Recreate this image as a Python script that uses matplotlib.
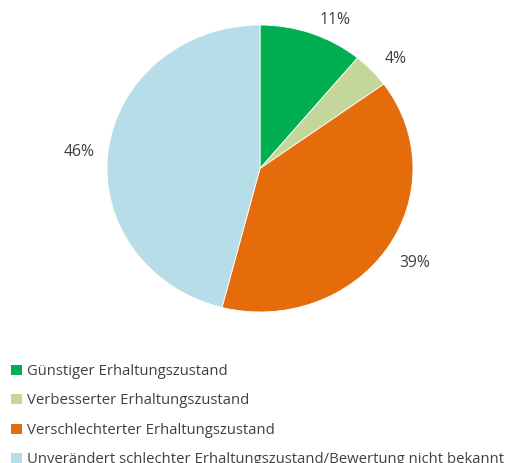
import numpy as np
import matplotlib
matplotlib.use("Agg")
import matplotlib.pyplot as plt
from matplotlib.patches import Patch

labels = ["Günstiger Erhaltungszustand",
          "Verbesserter Erhaltungszustand",
          "Verschlechterter Erhaltungszustand",
          "Unverändert schlechter Erhaltungszustand/Bewertung nicht bekannt"]
values = [11, 4, 39, 46]
colors = ["#00B050", "#C4D79B", "#E46C0A", "#B7DEE8"]
# label nudges from the wedge edge, in points
label_offsets = [(17, 10), (17, 8), (20, -10), (-21, -1)]

plt.rcParams['font.family'] = ['Open Sans', 'DejaVu Sans']
text_color = "#404040"

W, H = 514, 463
fig = plt.figure(figsize=(W / 100, H / 100), dpi=100)
ax = fig.add_axes([107 / W, 1 - 312 / H, 306 / W, 287 / H])
wedges, _ = ax.pie(values, colors=colors, startangle=90, counterclock=False,
                   wedgeprops=dict(edgecolor="white", linewidth=0.6))
ax.set_aspect("auto")
ax.set_xlim(-1, 1)
ax.set_ylim(-1, 1)

for w, v, off in zip(wedges, values, label_offsets):
    mid = np.deg2rad((w.theta1 + w.theta2) / 2)
    ax.annotate(f"{v}%", xy=(np.cos(mid), np.sin(mid)), xytext=off,
                textcoords="offset points", ha="center", va="center",
                fontsize=11.3, color=text_color)

handles = [Patch(facecolor=c, edgecolor="none") for c in colors]
fig.legend(handles, labels, loc="upper left", bbox_to_anchor=(0.022, 1 - 364 / H),
           frameon=False, fontsize=10.75, handlelength=0.7, handleheight=0.7,
           handletextpad=0.33, labelspacing=0.97, borderaxespad=0, borderpad=0,
           labelcolor=text_color)

fig.savefig("out.png", dpi=100)
